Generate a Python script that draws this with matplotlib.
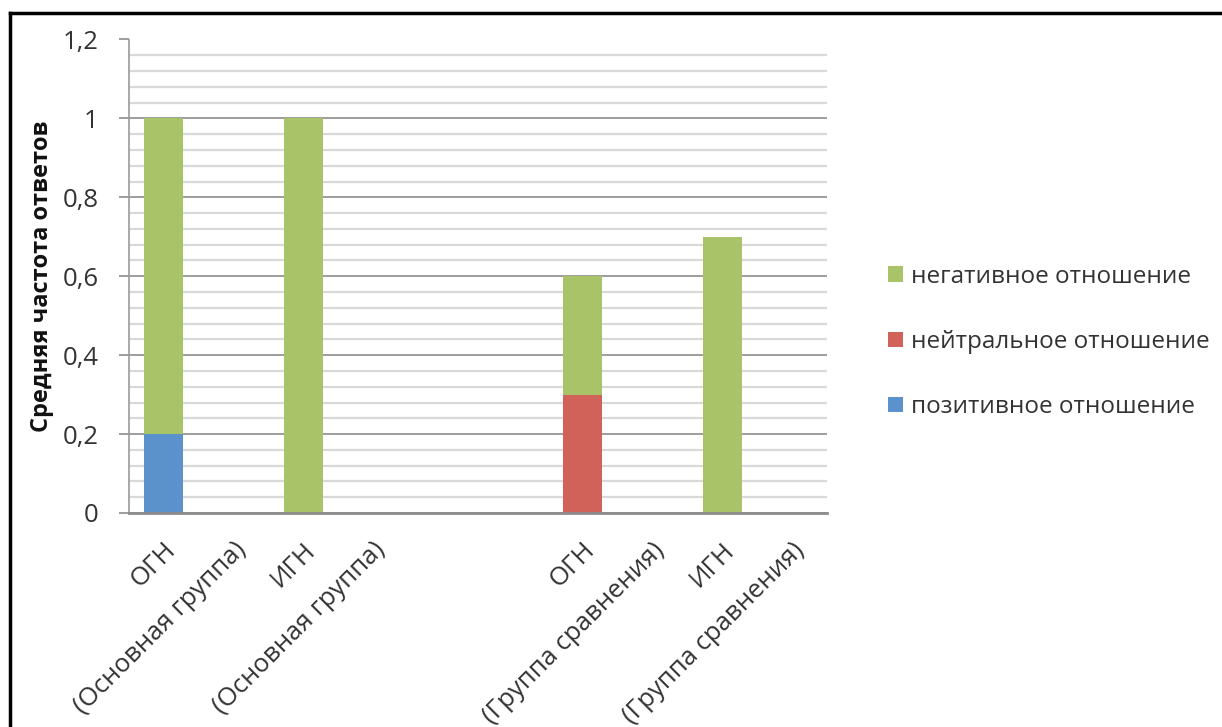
import matplotlib
matplotlib.use("Agg")
import matplotlib.pyplot as plt
from matplotlib.lines import Line2D
from matplotlib.ticker import MultipleLocator, FuncFormatter

# категории по оси X (каждая строка подписи - отдельная категория)
categories = ["ОГН", "(Основная группа)", "ИГН", "(Основная группа)", "", "",
              "ОГН", "(Группа сравнения)", "ИГН", "(Группа сравнения)"]
positive = [0.2, 0, 0, 0, 0, 0, 0.0, 0, 0.0, 0]
neutral = [0.0, 0, 0, 0, 0, 0, 0.3, 0, 0.0, 0]
negative = [0.8, 0, 1.0, 0, 0, 0, 0.3, 0, 0.7, 0]
series_names = ["позитивное отношение", "нейтральное отношение", "негативное отношение"]
colors = ["#5C92CC", "#D0625A", "#A9C468"]

plt.rcParams['font.family'] = ['Open Sans', 'DejaVu Sans']
txt = "#333333"
fs = 18.5

W, H = 1222, 727
fig = plt.figure(figsize=(W / 100, H / 100), dpi=100)
ax = fig.add_axes([129 / W, 1 - 513 / H, 698 / W, 473.5 / H])

x = list(range(len(categories)))
bottom2 = [a + b for a, b in zip(positive, neutral)]
b1 = ax.bar(x, positive, width=0.56, color=colors[0], zorder=3)
b2 = ax.bar(x, neutral, width=0.56, bottom=positive, color=colors[1], zorder=3)
b3 = ax.bar(x, negative, width=0.56, bottom=bottom2, color=colors[2], zorder=3)

ax.set_xlim(-0.5, len(categories) - 0.5)
ax.set_ylim(0, 1.2)
ax.yaxis.set_major_locator(MultipleLocator(0.2))
ax.yaxis.set_minor_locator(MultipleLocator(0.04))
ax.yaxis.set_major_formatter(FuncFormatter(lambda v, p: ("%g" % round(v, 2)).replace(".", ",")))
ax.grid(which="minor", axis="y", color="#d9d9d9", linewidth=1.6, zorder=0)
ax.grid(which="major", axis="y", color="#8c8c8c", linewidth=1.2, zorder=1)
ax.tick_params(axis="y", which="major", length=7, width=1.2, color="#8c8c8c",
               pad=15, labelsize=fs, labelcolor=txt)
ax.tick_params(axis="y", which="minor", length=0)
ax.set_xticks([])

for s in ["top", "right"]:
    ax.spines[s].set_visible(False)
ax.spines["left"].set_color("#9a9a9a")
ax.spines["left"].set_linewidth(1.2)
ax.spines["bottom"].set_color("#8c8c8c")
ax.spines["bottom"].set_linewidth(2)
ax.spines["bottom"].set_zorder(4)

# подписи категорий под углом 45°
for i, lab in enumerate(categories):
    if lab:
        ax.annotate(lab, xy=(i, 0), xycoords=("data", "axes fraction"),
                    xytext=(6, -24), textcoords="offset points",
                    rotation=45, ha="right", va="center", rotation_mode="anchor",
                    fontsize=fs, color=txt, annotation_clip=False)

fig.text(42 / W, 1 - 276 / H, "Средняя частота ответов", rotation=90,
         ha="center", va="center", fontsize=17, fontweight="bold", color="#111111")

leg = fig.legend([b3, b2, b1], series_names[::-1], loc="center left",
                 bbox_to_anchor=(888 / W, 1 - 342 / H), frameon=False,
                 fontsize=17.5, borderpad=0, borderaxespad=0,
                 handlelength=0.6, handleheight=0.6, handletextpad=0.35,
                 labelspacing=1.7)
for t in leg.get_texts():
    t.set_color(txt)

# рамка скриншота (слева и сверху)
fig.add_artist(Line2D([9.5 / W, 9.5 / W], [0, 1 - 12.5 / H], color="black", lw=2.5))
fig.add_artist(Line2D([9.5 / W, 1], [1 - 12.5 / H, 1 - 12.5 / H], color="black", lw=2.5))

fig.savefig("out.png", dpi=100)
